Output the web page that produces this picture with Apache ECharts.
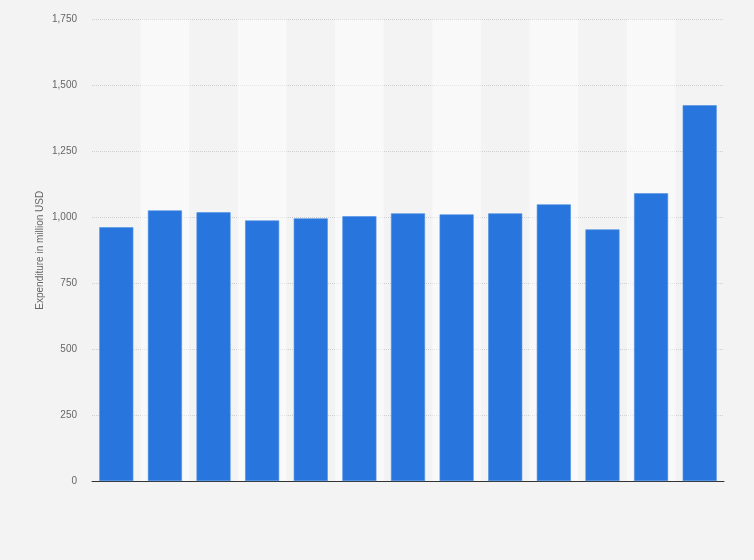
<!DOCTYPE html>
<html>
<head>
<meta charset="utf-8">
<script src="https://cdn.jsdelivr.net/npm/echarts@6/dist/echarts.min.js"></script>
<style>
html,body{margin:0;padding:0;background:#f3f3f3;}
#chart{width:754px;height:560px;}
</style>
</head>
<body>
<div id="chart"></div>
<script>
var categories = ['1','2','3','4','5','6','7','8','9','10','11','12','13'];
var expenditure = [962, 1026, 1019, 988, 996, 1004, 1015, 1011, 1015, 1049, 954, 1091, 1425];
var yTicks = {min: 0, max: 1750, interval: 250};
var yAxisName = 'Expenditure in million USD';

var chart = echarts.init(document.getElementById('chart'));
chart.setOption({
  backgroundColor: '#f3f3f3',
  animation: false,
  grid: {left: 92, right: 30, top: 19.5, bottom: 79},
  xAxis: {
    type: 'category',
    data: categories,
    axisLine: {show: true, lineStyle: {color: '#333', width: 1}},
    axisTick: {show: false},
    axisLabel: {show: false},
    splitArea: {show: true, areaStyle: {color: ['rgba(0,0,0,0)', 'rgba(255,255,255,0.5)']}}
  },
  yAxis: {
    type: 'value',
    min: yTicks.min, max: yTicks.max, interval: yTicks.interval,
    name: yAxisName,
    nameLocation: 'middle',
    nameGap: 47,
    nameMoveOverlap: false,
    nameTextStyle: {color: '#666', fontSize: 10, fontFamily: 'Liberation Sans, Arial, sans-serif'},
    axisLine: {show: false},
    axisTick: {show: false},
    axisLabel: {
      color: '#666', fontSize: 10, margin: 15,
      fontFamily: 'Liberation Sans, Arial, sans-serif',
      formatter: function (v) { return v.toLocaleString('en-US'); }
    },
    splitLine: {lineStyle: {color: '#cfcfcf', type: [1, 1], width: 1}}
  },
  series: [{
    type: 'bar',
    data: expenditure,
    barCategoryGap: '30%',
    itemStyle: {color: '#2876dd', borderColor: '#4d8fe6', borderWidth: 0.6}
  }]
});
</script>
</body>
</html>
